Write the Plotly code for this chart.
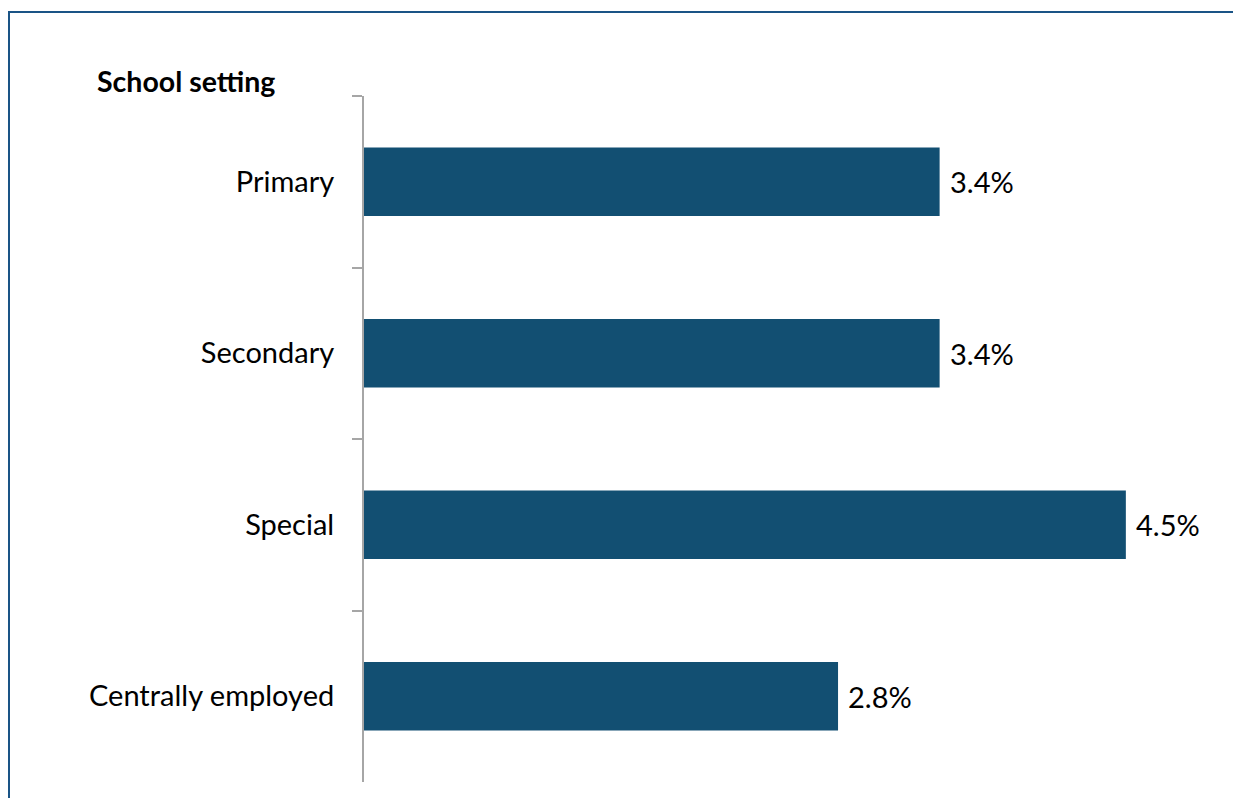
import plotly.graph_objects as go

categories = ["Primary", "Secondary", "Special", "Centrally employed"]
values = [3.4, 3.4, 4.5, 2.8]
value_labels = ["3.4%", "3.4%", "4.5%", "2.8%"]
heading = "School setting"

BAR_COLOR = "#124f72"
FONT = "Lato, 'Open Sans', sans-serif"
LABEL_SIZE = 29

W, H = 1233, 798
ML, MR, MT, MB = 364, 23, 96, 16
pw = W - ML - MR
ph = H - MT - MB


def px_x(px):
    return (px - ML) / pw


def px_y(py):
    return (H - MB - py) / ph


fig = go.Figure(
    go.Bar(
        x=values,
        y=categories,
        orientation="h",
        marker=dict(color=BAR_COLOR, line=dict(width=0)),
        width=0.4,
        hoverinfo="skip",
    )
)

# value labels just past the end of each bar
for cat, val, lab in zip(categories, values, value_labels):
    fig.add_annotation(
        x=val,
        y=cat,
        xref="x",
        yref="y",
        text=lab,
        showarrow=False,
        xanchor="left",
        yanchor="middle",
        xshift=8,
        font=dict(family=FONT, size=LABEL_SIZE, color="#000000"),
    )

fig.update_layout(
    width=W,
    height=H,
    margin=dict(l=ML, r=MR, t=MT, b=MB),
    paper_bgcolor="white",
    plot_bgcolor="white",
    showlegend=False,
    font=dict(family=FONT, size=LABEL_SIZE, color="#000000"),
    xaxis=dict(range=[0, pw / 169.3], visible=False, fixedrange=True),
    yaxis=dict(
        autorange="reversed",
        showline=True,
        linecolor="#a6a6a6",
        linewidth=2,
        ticks="outside",
        ticklen=10,
        tickcolor="#a6a6a6",
        tickwidth=2,
        tickson="boundaries",
        ticklabelstandoff=22,
        showgrid=False,
        zeroline=False,
        tickfont=dict(family=FONT, size=LABEL_SIZE, color="#000000"),
    ),
    shapes=[
        dict(
            type="rect",
            xref="paper",
            yref="paper",
            x0=px_x(9),
            x1=px_x(1260),
            y0=px_y(830),
            y1=px_y(12),
            line=dict(color="#1a5486", width=2),
            fillcolor="rgba(0,0,0,0)",
            layer="below",
        )
    ],
)

fig.add_annotation(
    text="<b>" + heading + "</b>",
    xref="paper",
    yref="paper",
    x=px_x(95),
    y=px_y(81),
    xanchor="left",
    yanchor="middle",
    showarrow=False,
    font=dict(family=FONT, size=28.5, color="#000000"),
)

fig.write_html("out.html")
